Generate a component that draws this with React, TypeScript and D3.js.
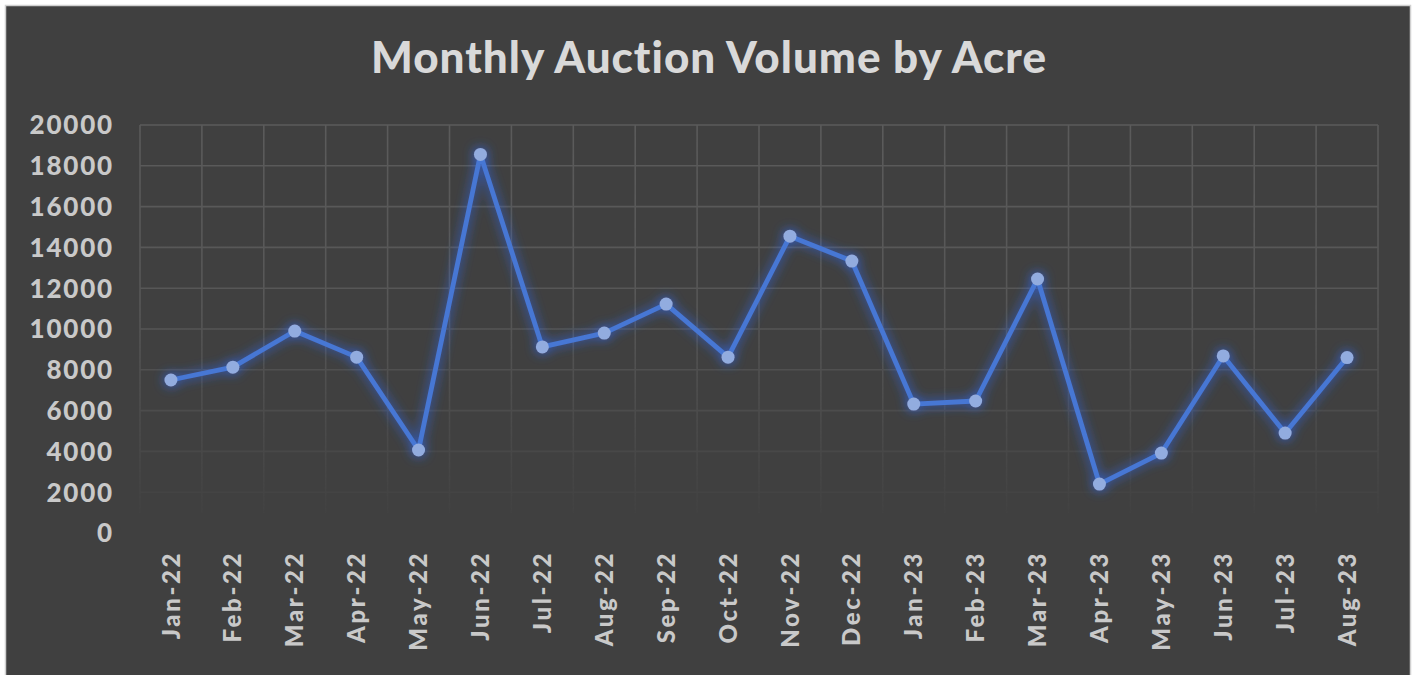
import React, { useRef, useEffect } from 'react';
import * as d3 from 'd3';

const months = [
  'Jan-22', 'Feb-22', 'Mar-22', 'Apr-22', 'May-22', 'Jun-22', 'Jul-22', 'Aug-22', 'Sep-22', 'Oct-22',
  'Nov-22', 'Dec-22', 'Jan-23', 'Feb-23', 'Mar-23', 'Apr-23', 'May-23', 'Jun-23', 'Jul-23', 'Aug-23',
];
const acres = [
  7500, 8130, 9900, 8620, 4070, 18560, 9120, 9800, 11220, 8620,
  14550, 13330, 6320, 6470, 12450, 2400, 3920, 8680, 4900, 8600,
];
const yTicks = [0, 2000, 4000, 6000, 8000, 10000, 12000, 14000, 16000, 18000, 20000];

const W = 1416;
const H = 675;
const FONT = 'Lato, "Noto Sans", sans-serif';

const App: React.FC = () => {
  const svgRef = useRef<SVGSVGElement | null>(null);

  useEffect(() => {
    if (!svgRef.current) return;
    const svg = d3.select(svgRef.current);
    svg.selectAll('*').remove();

    const margin = { top: 125, right: 38, bottom: 142, left: 140 };
    const innerWidth = W - margin.left - margin.right;
    const innerHeight = H - margin.top - margin.bottom;

    const defs = svg.append('defs');

    // blue glow behind line + markers
    const glow = defs.append('filter').attr('id', 'glow')
      .attr('x', '-20%').attr('y', '-20%').attr('width', '140%').attr('height', '140%');
    glow.append('feGaussianBlur').attr('in', 'SourceAlpha').attr('stdDeviation', 6).attr('result', 'blur');
    glow.append('feFlood').attr('flood-color', '#2d6cff').attr('flood-opacity', 0.85);
    glow.append('feComposite').attr('in2', 'blur').attr('operator', 'in').attr('result', 'shadow');
    const merge = glow.append('feMerge');
    merge.append('feMergeNode').attr('in', 'shadow');
    merge.append('feMergeNode').attr('in', 'SourceGraphic');

    // grid fades out toward the bottom
    const grad = defs.append('linearGradient').attr('id', 'gridFade')
      .attr('gradientUnits', 'userSpaceOnUse')
      .attr('x1', 0).attr('y1', 0).attr('x2', 0).attr('y2', innerHeight);
    grad.append('stop').attr('offset', '0%').attr('stop-color', '#fff').attr('stop-opacity', 1);
    grad.append('stop').attr('offset', '45%').attr('stop-color', '#fff').attr('stop-opacity', 0.85);
    grad.append('stop').attr('offset', '100%').attr('stop-color', '#fff').attr('stop-opacity', 0);
    defs.append('mask').attr('id', 'gridMask')
      .append('rect')
      .attr('x', -5).attr('y', -5)
      .attr('width', innerWidth + 10).attr('height', innerHeight + 10)
      .attr('fill', 'url(#gridFade)');

    // background + frame
    svg.append('rect').attr('width', W).attr('height', H).attr('fill', '#ffffff');
    svg.append('rect')
      .attr('x', 5.5).attr('y', 5.5).attr('width', 1405).attr('height', 680)
      .attr('fill', '#404040').attr('stroke', '#d0d0d0').attr('stroke-width', 1.5);

    svg.append('text')
      .attr('x', 709).attr('y', 73)
      .attr('text-anchor', 'middle')
      .style('font-family', FONT)
      .style('font-weight', 900)
      .style('font-size', '44px')
      .style('letter-spacing', '1px')
      .style('fill', '#d9d9d9')
      .text('Monthly Auction Volume by Acre');

    const chart = svg.append('g').attr('transform', `translate(${margin.left},${margin.top})`);

    const x = d3.scaleBand().domain(months).range([0, innerWidth]);
    const y = d3.scaleLinear().domain([0, 20000]).range([innerHeight, 0]);

    // Grid
    const grid = chart.append('g').attr('mask', 'url(#gridMask)')
      .attr('stroke', '#5b5b5b').attr('stroke-width', 1.6);
    grid.selectAll('.hline')
      .data(yTicks.filter(t => t > 0))
      .join('line')
      .attr('x1', 0).attr('x2', innerWidth)
      .attr('y1', d => y(d)).attr('y2', d => y(d));
    const edges = months.map(m => x(m)!).concat([innerWidth]);
    grid.selectAll('.vline')
      .data(edges)
      .join('line')
      .attr('x1', d => d).attr('x2', d => d)
      .attr('y1', 0).attr('y2', innerHeight - 20);

    // Y axis labels
    chart.append('g')
      .selectAll('text')
      .data(yTicks)
      .join('text')
      .attr('x', -26)
      .attr('y', d => y(d))
      .attr('dy', '0.36em')
      .attr('text-anchor', 'end')
      .style('font-family', FONT)
      .style('font-weight', 900)
      .style('font-size', '26px')
      .style('letter-spacing', '1.8px')
      .style('fill', '#c9c9c9')
      .text(d => String(d));

    // X axis labels
    chart.append('g')
      .selectAll('text')
      .data(months)
      .join('text')
      .attr('transform', d => `translate(${x(d)! + x.bandwidth() / 2},${innerHeight + 18}) rotate(-90)`)
      .attr('dy', '0.36em')
      .attr('text-anchor', 'end')
      .style('font-family', FONT)
      .style('font-weight', 900)
      .style('font-size', '24px')
      .style('letter-spacing', '2.6px')
      .style('fill', '#c9c9c9')
      .text(d => d);

    const cx = (i: number) => x(months[i])! + x.bandwidth() / 2;

    const line = d3.line<number>()
      .x((_, i) => cx(i))
      .y(d => y(d));

    const series = chart.append('g').attr('filter', 'url(#glow)');
    series.append('path')
      .datum(acres)
      .attr('d', line)
      .attr('fill', 'none')
      .attr('stroke', '#4677d4')
      .attr('stroke-width', 4.8)
      .attr('stroke-linejoin', 'round');

    series.selectAll('circle')
      .data(acres)
      .join('circle')
      .attr('cx', (_, i) => cx(i))
      .attr('cy', d => y(d))
      .attr('r', 6.5)
      .attr('fill', '#92acdf');
  }, []);

  return (
    <svg
      ref={svgRef}
      width={W}
      height={H}
      style={{ position: 'absolute', left: 0, top: 0, display: 'block' }}
    ></svg>
  );
};

export default App;
